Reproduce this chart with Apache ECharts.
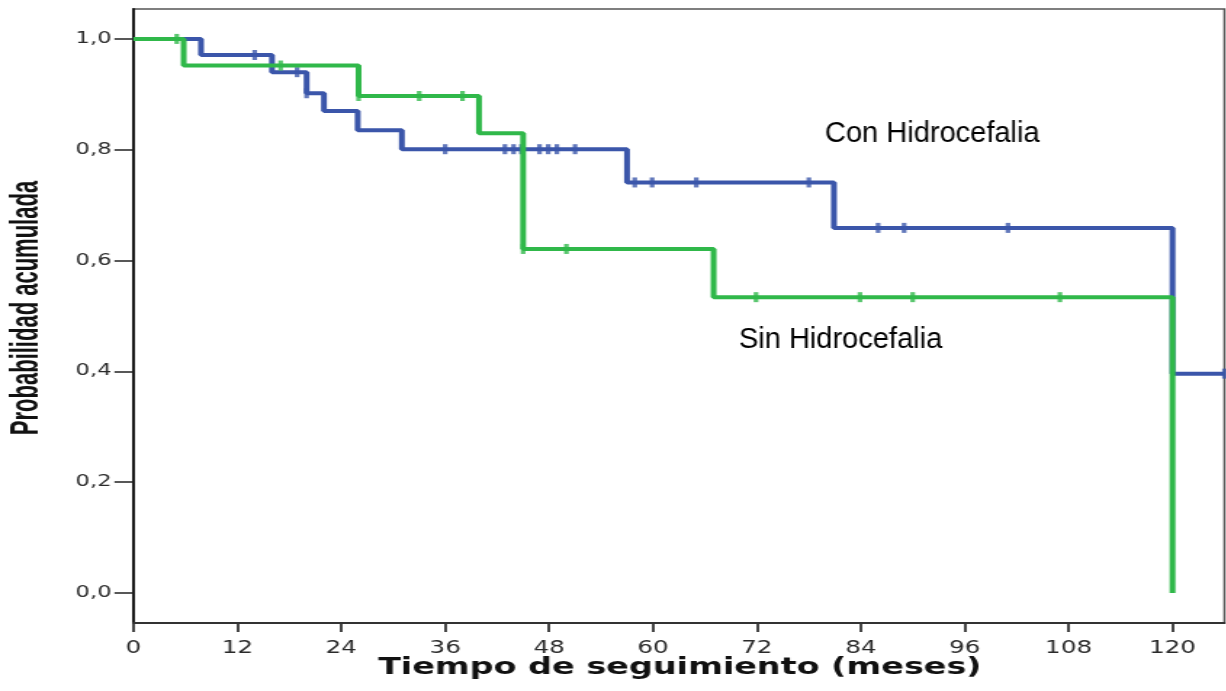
<!DOCTYPE html>
<html lang="es">
<head>
<meta charset="utf-8">
<title>Probabilidad acumulada – Kaplan-Meier</title>
<script src="https://cdn.jsdelivr.net/npm/echarts@6.0.0/dist/echarts.min.js"></script>
<style>
  html, body { margin: 0; padding: 0; background: #fff; overflow: hidden; }
  #wrap { width: 1226px; height: 691px; overflow: hidden; }
  #chart { height: 691px; transform-origin: 0 0; }
</style>
</head>
<body>
<div id="wrap"><div id="chart"></div></div>
<script>
// Kaplan-Meier curves: follow-up time (months) and cumulative survival.
const conTime  = [0, 7.8, 16.0, 20.0, 22.0, 25.9, 31.0, 57.0, 80.9, 120.0, 126.0];
const conSurv  = [1.0, 0.971, 0.940, 0.902, 0.870, 0.835, 0.801, 0.741, 0.659, 0.396, 0.396];
const conCensored = [14.0, 18.9, 20.0, 36.0, 42.9, 43.9, 44.8, 46.9, 47.9, 48.9, 51.0,
                     57.9, 59.9, 65.0, 78.0, 86.0, 89.0, 101.0, 126.0];

const sinTime  = [0, 5.8, 26.0, 39.9, 45.0, 67.0, 120.0];
const sinSurv  = [1.0, 0.952, 0.897, 0.830, 0.621, 0.534, 0.0];
const sinCensored = [5.0, 17.0, 26.0, 33.0, 38.0, 45.0, 50.0, 71.9, 83.9, 90.0, 107.0];

const xTicks = [0, 12, 24, 36, 48, 60, 72, 84, 96, 108, 120];
const yTicks = [0, 0.2, 0.4, 0.6, 0.8, 1.0];

const groupNames = ['Con Hidrocefalia', 'Sin Hidrocefalia'];
const xTitle = 'Tiempo de seguimiento (meses)';
const yTitle = 'Probabilidad acumulada';

// The chart is drawn in a narrower frame and widened horizontally.
const S = 1.45;
const W = 1226 / S;
const u = px => px / S;

const BLUE = '#3b56aa';
const GREEN = '#30b84a';

// survival value of a step curve at time t (level after any drop at t)
function survivalAt(times, surv, t) {
  let v = surv[0];
  for (let i = 0; i < times.length; i++) {
    if (times[i] <= t + 1e-9) v = surv[i];
  }
  return v;
}

const conLine = conTime.map((t, i) => [t, conSurv[i]]);
const sinLine = sinTime.map((t, i) => [t, sinSurv[i]]);
const conMarks = conCensored.map(t => [t, survivalAt(conTime, conSurv, t)]);
const sinMarks = sinCensored.map(t => [t, survivalAt(sinTime, sinSurv, t)]);

const el = document.getElementById('chart');
el.style.width = W + 'px';
el.style.transform = 'scaleX(' + S + ')';

const chart = echarts.init(el, null, { renderer: 'canvas', width: W, height: 691 });

const fmt = v => v.toFixed(1).replace('.', ',');

chart.setOption({
  animation: false,
  backgroundColor: '#fff',
  grid: {
    left: u(133.3), right: u(1226 - 1223), top: 9, bottom: 68,
    show: true, borderColor: '#555', borderWidth: 1.5, backgroundColor: 'transparent'
  },
  xAxis: {
    type: 'value', min: 0, max: 126,
    axisLine: { show: true, onZero: false, lineStyle: { color: '#333', width: 1.8 } },
    axisTick: { show: true, customValues: xTicks, length: 9, lineStyle: { color: '#333', width: 1.8 } },
    axisLabel: {
      customValues: xTicks, margin: 17,
      fontFamily: 'DejaVu Sans', fontSize: 17, color: '#2a2a2a'
    },
    splitLine: { show: false }
  },
  yAxis: {
    type: 'value', min: -0.054, max: 1.054,
    axisLine: { show: true, onZero: false, lineStyle: { color: '#111', width: 1.8 } },
    axisTick: { show: true, customValues: yTicks, length: u(19), lineStyle: { color: '#222', width: 1.5 } },
    axisLabel: {
      customValues: yTicks, margin: u(22), formatter: fmt,
      fontFamily: 'DejaVu Sans', fontSize: 15.5, color: '#2a2a2a'
    },
    splitLine: { show: false }
  },
  graphic: [
    {
      type: 'text', x: u(679), y: 668,
      style: { text: xTitle, font: 'bold 23px "DejaVu Sans"', fill: '#111', align: 'center', verticalAlign: 'middle' }
    },
    {
      type: 'text', x: u(27), y: 308, rotation: Math.PI / 2, scaleY: 1.22,
      style: { text: yTitle, font: 'bold 22px "Liberation Sans"', fill: '#111', align: 'center', verticalAlign: 'middle' }
    },
    {
      type: 'text', x: u(824), y: 134, scaleX: 1 / S,
      style: { text: groupNames[0], font: '29px "Liberation Sans"', fill: '#000', align: 'left', verticalAlign: 'middle' }
    },
    {
      type: 'text', x: u(738), y: 340, scaleX: 1 / S,
      style: { text: groupNames[1], font: '29px "Liberation Sans"', fill: '#000', align: 'left', verticalAlign: 'middle' }
    }
  ],
  series: [
    {
      name: groupNames[0], type: 'line', step: 'end', data: conLine,
      symbol: 'none', lineStyle: { color: BLUE, width: 4 }, z: 2
    },
    {
      name: groupNames[0] + ' (censurado)', type: 'scatter', data: conMarks,
      symbol: 'rect', symbolSize: [3.2, 10], itemStyle: { color: BLUE }, z: 3
    },
    {
      name: groupNames[1], type: 'line', step: 'end', data: sinLine,
      symbol: 'none', lineStyle: { color: GREEN, width: 4 }, z: 4
    },
    {
      name: groupNames[1] + ' (censurado)', type: 'scatter', data: sinMarks,
      symbol: 'rect', symbolSize: [3.2, 10], itemStyle: { color: GREEN }, z: 5
    }
  ]
});
</script>
</body>
</html>
